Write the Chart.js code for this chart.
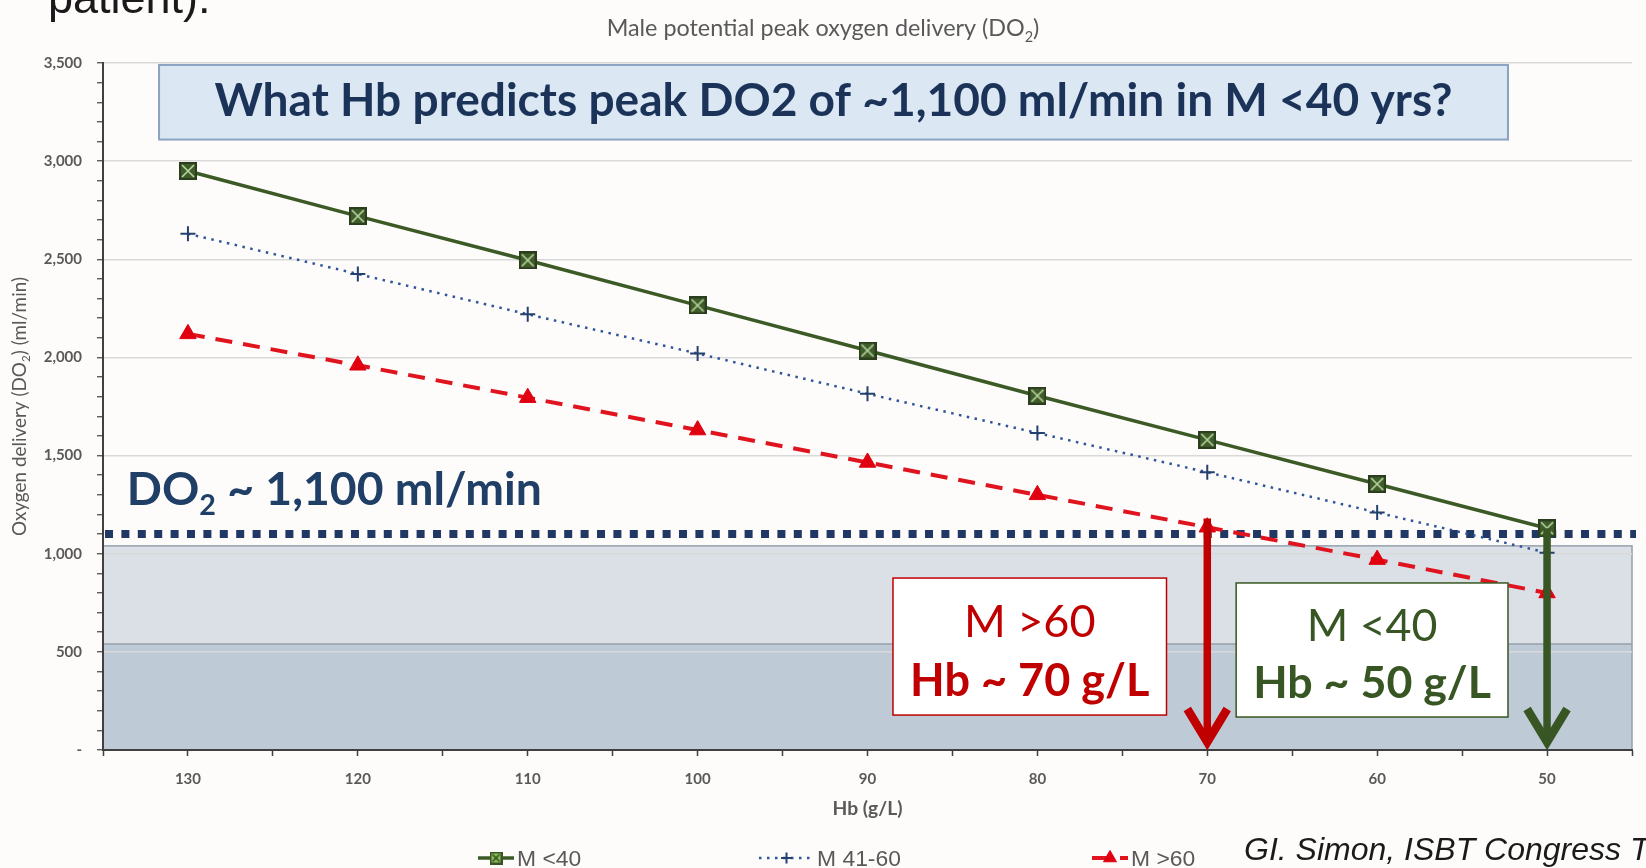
<!DOCTYPE html>
<html lang="en">
<head>
<meta charset="UTF-8">
<title>Male potential peak oxygen delivery</title>
<script src="https://cdn.jsdelivr.net/npm/chart.js"></script>
<style>
  html, body { margin: 0; padding: 0; background: #fdfcfb; overflow: hidden; }
  #wrap { position: relative; width: 1646px; height: 868px; }
</style>
</head>
<body>
<div id="wrap"><canvas id="do2-chart"></canvas></div>
<script>
// Hb levels (g/L), plotted from high to low
const hbLevels = [130, 120, 110, 100, 90, 80, 70, 60, 50];
// Peak oxygen delivery (ml/min) for each age group
const mUnder40 = [2950, 2720, 2495, 2265, 2035, 1805, 1580, 1355, 1130];
const m41to60 = [2630, 2425, 2220, 2020, 1815, 1615, 1415, 1210, 1005];
const mOver60 = [2120, 1960, 1795, 1630, 1465, 1300, 1135, 970, 800];
const seriesNames = ['M <40', 'M 41-60', 'M >60'];

// target delivery line and the shaded zones under it
const targetDO2 = 1100;
const bandEdges = [0, 540, 1040];

// arrows drop from the target line to the Hb that reaches it
const arrowHb = [70, 50];
const arrowTop = [1180, 1130];

const navy = '#1f3864';
const darkGreen = '#375623';
const darkRed = '#c00000';
const axisGrey = '#595959';

// boxes, in axis units
const questionBox = { hbFrom: 131.7, hbTo: 52.3, top: 3490, bottom: 3110 };
const over60Box = { hbFrom: 88.5, hbTo: 72.4, top: 876, bottom: 178 };
const under40Box = { hbFrom: 68.3, hbTo: 52.3, top: 851, bottom: 168 };
const do2LabelAt = { hb: 133.6, value: 1250 };

function toPoints(values) {
  return hbLevels.map((hb, i) => ({ x: hb, y: values[i] }));
}

// square marker with a cross through it
function boxCrossMarker(size, fill, edge, cross) {
  const c = document.createElement('canvas');
  c.width = c.height = size;
  const g = c.getContext('2d');
  g.fillStyle = fill;
  g.fillRect(0, 0, size, size);
  g.strokeStyle = edge;
  g.lineWidth = 2;
  g.strokeRect(1, 1, size - 2, size - 2);
  g.strokeStyle = cross;
  g.lineWidth = 1.6;
  g.beginPath();
  g.moveTo(3, 3); g.lineTo(size - 3, size - 3);
  g.moveTo(size - 3, 3); g.lineTo(3, size - 3);
  g.stroke();
  return c;
}
const chartMarker = boxCrossMarker(18, '#3f5b2b', '#2a3d1c', '#b7d69c');
const legendMarker = boxCrossMarker(13, '#8cc15e', '#3a5425', '#2f4a1f');

// text made of runs, some of them subscript
function runsWidth(ctx, runs, weight, size, family) {
  let w = 0;
  runs.forEach(r => {
    ctx.font = `${weight} ${r.sub ? size * 0.62 : size}px ${family}`;
    w += ctx.measureText(r.t).width;
  });
  return w;
}

function fitSize(ctx, runs, weight, family, width) {
  return 100 * width / runsWidth(ctx, runs, weight, 100, family);
}

function drawRuns(ctx, runs, x, y, o) {
  const w = runsWidth(ctx, runs, o.weight, o.size, o.family);
  let cx = o.align === 'center' ? x - w / 2 : x;
  ctx.fillStyle = o.color;
  ctx.textAlign = 'left';
  ctx.textBaseline = 'alphabetic';
  runs.forEach(r => {
    ctx.font = `${o.weight} ${r.sub ? o.size * 0.62 : o.size}px ${o.family}`;
    ctx.fillText(r.t, cx, y + (r.sub ? o.size * 0.22 : 0));
    cx += ctx.measureText(r.t).width;
  });
}

function drawArrow(ctx, x, yTop, yTip, color) {
  ctx.save();
  ctx.setLineDash([]);
  ctx.strokeStyle = color;
  ctx.lineWidth = 7.5;
  ctx.beginPath();
  ctx.moveTo(x, yTop);
  ctx.lineTo(x, yTip - 10);
  ctx.stroke();
  ctx.lineWidth = 8.5;
  ctx.lineJoin = 'miter';
  ctx.beginPath();
  ctx.moveTo(x - 20, yTip - 41);
  ctx.lineTo(x, yTip - 8);
  ctx.lineTo(x + 20, yTip - 41);
  ctx.stroke();
  ctx.restore();
}

function boxPixels(chart, b) {
  const { x, y } = chart.scales;
  const l = x.getPixelForValue(b.hbFrom), r = x.getPixelForValue(b.hbTo);
  const t = y.getPixelForValue(b.top), btm = y.getPixelForValue(b.bottom);
  return { l, t, w: r - l, h: btm - t };
}

function drawCallout(ctx, chart, b, lines, color) {
  const p = boxPixels(chart, b);
  ctx.fillStyle = '#ffffff';
  ctx.fillRect(p.l, p.t, p.w, p.h);
  ctx.strokeStyle = color;
  ctx.lineWidth = 1.5;
  ctx.strokeRect(p.l, p.t, p.w, p.h);
  const size = fitSize(ctx, [{ t: lines[1] }], 'bold', 'Lato', p.w * 0.875);
  const cx = p.l + p.w / 2;
  drawRuns(ctx, [{ t: lines[0] }], cx, p.t + p.h * 0.43, { weight: 'normal', size, family: 'Lato', color, align: 'center' });
  drawRuns(ctx, [{ t: lines[1] }], cx, p.t + p.h * 0.86, { weight: 'bold', size, family: 'Lato', color, align: 'center' });
}

const overlays = {
  id: 'overlays',
  beforeDraw(chart) {
    const { ctx, chartArea: a, scales: { y } } = chart;
    const yLo = y.getPixelForValue(bandEdges[0]);
    const yMid = y.getPixelForValue(bandEdges[1]);
    const yHi = y.getPixelForValue(bandEdges[2]);
    ctx.save();
    ctx.fillStyle = '#dbe0e6';
    ctx.fillRect(a.left, yHi, a.width, yMid - yHi);
    ctx.fillStyle = '#bfcad7';
    ctx.fillRect(a.left, yMid, a.width, yLo - yMid);
    ctx.strokeStyle = '#94a0ad';
    ctx.lineWidth = 1.5;
    ctx.strokeRect(a.left, yHi, a.width, yLo - yHi);
    ctx.beginPath();
    ctx.moveTo(a.left, yMid);
    ctx.lineTo(a.right, yMid);
    ctx.stroke();
    ctx.restore();
  },
  beforeDatasetsDraw(chart) {
    const { ctx, chartArea: a, scales: { y } } = chart;
    ctx.save();
    // question banner
    const q = boxPixels(chart, questionBox);
    ctx.fillStyle = '#dbe7f3';
    ctx.fillRect(q.l, q.t, q.w, q.h);
    ctx.strokeStyle = '#8aa3c2';
    ctx.lineWidth = 2;
    ctx.strokeRect(q.l, q.t, q.w, q.h);
    const qRuns = [{ t: 'What Hb predicts peak DO2 of ~1,100 ml/min in M <40 yrs?' }];
    const qSize = fitSize(ctx, qRuns, 'bold', 'Lato', q.w * 0.918);
    drawRuns(ctx, qRuns, q.l + q.w / 2, q.t + q.h * 0.69, { weight: 'bold', size: qSize, family: 'Lato', color: '#1b3358', align: 'center' });
    // target delivery line
    const ty = y.getPixelForValue(targetDO2);
    ctx.strokeStyle = navy;
    ctx.lineWidth = 8;
    ctx.setLineDash([8, 8.4]);
    ctx.beginPath();
    ctx.moveTo(a.left + 2, ty);
    ctx.lineTo(a.right + 4, ty);
    ctx.stroke();
    ctx.restore();
  },
  afterDatasetsDraw(chart) {
    const { ctx, scales: { x, y } } = chart;
    ctx.save();
    drawArrow(ctx, x.getPixelForValue(arrowHb[0]), y.getPixelForValue(arrowTop[0]), y.getPixelForValue(0), darkRed);
    drawArrow(ctx, x.getPixelForValue(arrowHb[1]), y.getPixelForValue(arrowTop[1]), y.getPixelForValue(0), darkGreen);
    drawCallout(ctx, chart, over60Box, ['M >60', 'Hb ~ 70 g/L'], darkRed);
    drawCallout(ctx, chart, under40Box, ['M <40', 'Hb ~ 50 g/L'], darkGreen);
    const dRuns = [{ t: 'DO' }, { t: '2', sub: true }, { t: ' ~ 1,100 ml/min' }];
    const dSize = fitSize(ctx, dRuns, 'bold', 'Lato', 415);
    drawRuns(ctx, dRuns, x.getPixelForValue(do2LabelAt.hb), y.getPixelForValue(do2LabelAt.value),
      { weight: 'bold', size: dSize, family: 'Lato', color: '#1f3f66', align: 'left' });
    ctx.restore();
  },
  afterDraw(chart) {
    const { ctx, chartArea: a } = chart;
    ctx.save();
    // chart title
    const tRuns = [{ t: 'Male potential peak oxygen delivery (DO' }, { t: '2', sub: true }, { t: ')' }];
    const tSize = fitSize(ctx, tRuns, 'normal', 'Lato', 433);
    drawRuns(ctx, tRuns, 823, 28 + tSize * 0.36, { weight: 'normal', size: tSize, family: 'Lato', color: axisGrey, align: 'center' });
    // axis titles
    const xRuns = [{ t: 'Hb (g/L)' }];
    const xSize = fitSize(ctx, xRuns, 'bold', 'Lato', 70);
    drawRuns(ctx, xRuns, (a.left + a.right) / 2, 808 + xSize * 0.36, { weight: 'bold', size: xSize, family: 'Lato', color: axisGrey, align: 'center' });
    const yRuns = [{ t: 'Oxygen delivery (DO' }, { t: '2', sub: true }, { t: ') (ml/min)' }];
    const ySize = fitSize(ctx, yRuns, 'normal', 'Lato', 259);
    ctx.save();
    ctx.translate(19, (a.top + a.bottom) / 2);
    ctx.rotate(-Math.PI / 2);
    drawRuns(ctx, yRuns, 0, ySize * 0.36, { weight: 'normal', size: ySize, family: 'Lato', color: axisGrey, align: 'center' });
    ctx.restore();
    // legend
    const legendX = [478, 759, 1092];
    const sampleW = [36, 55, 36];
    const legendY = 858;
    const lSize = fitSize(ctx, [{ t: seriesNames[1] }], 'normal', '"Liberation Sans"', 84);
    chart.data.datasets.forEach((ds, i) => {
      const x0 = legendX[i], x1 = legendX[i] + sampleW[i];
      ctx.save();
      ctx.strokeStyle = ds.borderColor;
      ctx.lineWidth = ds.borderWidth;
      ctx.setLineDash(ds.borderDash || []);
      ctx.beginPath();
      ctx.moveTo(x0, legendY);
      ctx.lineTo(x1, legendY);
      ctx.stroke();
      ctx.setLineDash([]);
      ctx.fillStyle = ds.pointBackgroundColor || ds.borderColor;
      ctx.strokeStyle = ds.pointBorderColor || ds.borderColor;
      ctx.lineWidth = ds.pointBorderWidth || 1;
      Chart.helpers.drawPoint(ctx, {
        pointStyle: i === 0 ? legendMarker : ds.pointStyle,
        radius: ds.pointRadius - 2,
        borderWidth: ctx.lineWidth,
        rotation: 0
      }, (x0 + x1) / 2, legendY);
      ctx.restore();
      drawRuns(ctx, [{ t: ds.label }], x1 + 3, legendY + lSize * 0.36,
        { weight: 'normal', size: lSize, family: '"Liberation Sans"', color: axisGrey, align: 'left' });
    });
    // slide text around the chart
    drawRuns(ctx, [{ t: 'patient).' }], 48, 13, { weight: 'normal', size: 45, family: '"Liberation Sans"', color: '#1a1a1a', align: 'left' });
    drawRuns(ctx, [{ t: 'GI. Simon, ISBT Congress T' }], 1244, 860, { weight: 'italic', size: 32, family: '"Liberation Sans"', color: '#1a1a1a', align: 'left' });
    ctx.restore();
  }
};

new Chart(document.getElementById('do2-chart'), {
  type: 'line',
  data: {
    datasets: [
      {
        label: seriesNames[0],
        data: toPoints(mUnder40),
        borderColor: '#3b5a25',
        borderWidth: 3.5,
        pointStyle: chartMarker,
        pointRadius: 9,
        pointBackgroundColor: '#8cc15e',
        pointBorderColor: '#3a5425'
      },
      {
        label: seriesNames[1],
        data: toPoints(m41to60),
        borderColor: '#2e5597',
        borderWidth: 2.5,
        borderDash: [2.5, 5.5],
        pointStyle: 'cross',
        pointRadius: 7.5,
        pointBorderWidth: 2,
        pointBorderColor: '#24406e'
      },
      {
        label: seriesNames[2],
        data: toPoints(mOver60),
        borderColor: '#e0141e',
        borderWidth: 4,
        borderDash: [17, 11],
        pointStyle: 'triangle',
        pointRadius: 9.5,
        pointBorderWidth: 1,
        pointBackgroundColor: '#e00010',
        pointBorderColor: '#e00010'
      }
    ]
  },
  options: {
    responsive: true,
    maintainAspectRatio: false,
    animation: false,
    devicePixelRatio: 1,
    layout: { padding: { top: 63, right: 4, left: 0, bottom: 0 } },
    elements: { line: { tension: 0, fill: false } },
    plugins: {
      legend: { display: false },
      title: { display: false },
      tooltip: { enabled: false }
    },
    scales: {
      x: {
        type: 'linear',
        reverse: true,
        min: 45,
        max: 135,
        afterFit: s => { s.height = 118; },
        border: { color: '#404040', width: 2 },
        grid: { drawOnChartArea: false, tickLength: 6, tickColor: '#404040', tickWidth: 1.5 },
        ticks: {
          stepSize: 5,
          autoSkip: false,
          maxRotation: 0,
          padding: 14,
          color: axisGrey,
          font: { family: 'Lato', weight: 'bold', size: 15 },
          callback: v => (v % 10 === 0 ? v : '')
        }
      },
      y: {
        min: 0,
        max: 3500,
        afterFit: s => { s.width = 103; },
        border: { color: '#404040', width: 2 },
        grid: {
          color: c => (c.tick && c.tick.value % 500 === 0 && c.tick.value > 0 ? '#d9d9d9' : 'rgba(0,0,0,0)'),
          lineWidth: 1.5,
          tickLength: 6,
          tickColor: '#404040',
          tickWidth: 1.2
        },
        ticks: {
          stepSize: 100,
          autoSkip: false,
          padding: 15,
          color: axisGrey,
          font: { family: 'Lato', weight: 'bold', size: 15 },
          callback: v => (v % 500 !== 0 ? '' : v === 0 ? '-' : v.toLocaleString('en-US'))
        }
      }
    }
  },
  plugins: [overlays]
});
</script>
</body>
</html>
